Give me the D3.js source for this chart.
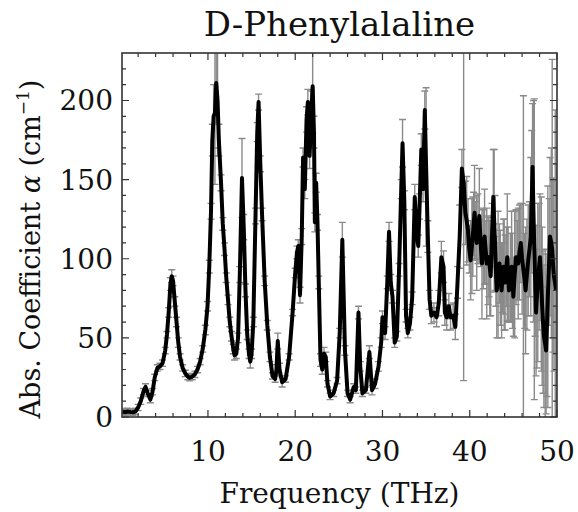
<!DOCTYPE html>
<html>
<head>
<meta charset="utf-8">
<script src="https://cdn.jsdelivr.net/npm/d3@7/dist/d3.min.js"></script>
<style>
  body { margin: 0; background: #fff; }
  svg text { font-family: "DejaVu Serif", serif; fill: #111; }
</style>
</head>
<body>
<div id="chart"></div>
<script>
// Absorption spectrum (THz, cm^-1, +/- error)
const freq = [
  0.2, 0.5, 0.8, 1.1, 1.4, 1.7, 2.0, 2.3, 2.6, 2.85, 3.1, 3.4, 3.65, 3.9, 4.2, 4.5, 4.8,
  5.1, 5.3, 5.5, 5.7, 5.85, 6.0, 6.2, 6.4, 6.6, 6.8, 7.1, 7.4, 7.7, 7.9, 8.2, 8.5, 8.8,
  9.1, 9.4, 9.7, 9.95, 10.15, 10.35, 10.5, 10.65, 10.8, 10.95, 11.1, 11.25, 11.5, 11.7,
  11.9, 12.1, 12.3, 12.5, 12.7, 12.9, 13.05, 13.25, 13.45, 13.65, 13.9, 14.1, 14.3, 14.5,
  14.7, 14.85, 15.0, 15.2, 15.45, 15.65, 15.8, 16.0, 16.2, 16.5, 16.8, 17.1, 17.4, 17.7,
  17.85, 18.0, 18.2, 18.5, 18.9, 19.3, 19.7, 20.0, 20.2, 20.35, 20.55, 20.75, 20.9, 21.1,
  21.3, 21.45, 21.65, 21.85, 22.0, 22.15, 22.25, 22.4, 22.55, 22.7, 22.9, 23.1, 23.3, 23.5,
  23.7, 24.0, 24.4, 24.8, 25.1, 25.4, 25.7, 26.0, 26.3, 26.7, 26.95, 27.25, 27.45, 27.7,
  28.1, 28.5, 28.8, 29.15, 29.55, 29.85, 30.0, 30.3, 30.55, 30.75, 30.95, 31.15, 31.4,
  31.65, 31.9, 32.15, 32.3, 32.5, 32.7, 32.9, 33.15, 33.4, 33.7, 33.9, 34.1, 34.25, 34.45,
  34.65, 34.85, 35.0, 35.2, 35.4, 35.6, 35.9, 36.2, 36.45, 36.75, 37.0, 37.15, 37.35, 37.6,
  37.8, 38.1, 38.35, 38.6, 38.85, 39.1, 39.3, 39.5, 39.65, 39.8, 39.95, 40.1, 40.25, 40.35,
  40.45, 40.55, 40.7, 40.8, 40.95, 41.1, 41.25, 41.4, 41.55, 41.7, 41.85, 41.95, 42.1, 42.2,
  42.3, 42.4, 42.55, 42.7, 42.8, 42.9, 43.0, 43.1, 43.25, 43.4, 43.5, 43.65, 43.75, 43.85,
  43.95, 44.05, 44.2, 44.3, 44.4, 44.5, 44.65, 44.8, 44.9, 45.0, 45.15, 45.3, 45.45, 45.55,
  45.7, 45.85, 46.0, 46.15, 46.3, 46.4, 46.55, 46.7, 46.85, 47.0, 47.1, 47.2, 47.3, 47.4,
  47.5, 47.6, 47.7, 47.8, 47.95, 48.05, 48.2, 48.3, 48.4, 48.5, 48.65, 48.75, 48.85, 48.95,
  49.1, 49.2, 49.35, 49.45, 49.55, 49.65, 49.8, 49.9
];
const alpha = [
  3.4, 3.0, 3.5, 3.2, 3.0, 3.6, 6, 10, 16, 19, 15, 11, 16, 25, 31, 32, 34,
  42, 52, 66, 84, 89, 86, 73, 60, 47, 38, 31, 27.5, 25.5, 24.8, 25.5, 27, 30,
  35, 43, 55, 70, 95, 130, 175, 190, 192, 211, 200, 175, 148, 122,
  106, 88, 74, 60, 51, 43, 39, 40, 50, 90, 151, 120, 80, 52,
  40, 35, 40, 60, 127, 180, 199, 160, 128, 86, 58, 38, 26, 24,
  30, 48, 30, 22, 24, 38, 66, 91, 104, 108, 77, 114, 164, 144,
  188, 199, 165, 194, 209, 180, 123, 148, 123, 85, 36, 30, 40, 38,
  21, 13, 15, 23, 53, 112, 42, 15, 11, 19, 17, 66, 32, 15,
  17, 41, 17, 21, 32, 47, 63, 53, 85, 117, 85, 76, 47,
  51, 93, 144, 173, 137, 64, 53, 59, 75, 139, 118, 108, 133, 169,
  144, 194, 158, 114, 74, 64, 66, 63, 72, 101, 95, 66, 63, 70,
  63, 64, 57, 85, 114, 157, 148, 129, 124, 118, 106, 99, 108, 114,
  122, 129, 118, 110, 119, 127, 110, 97, 106, 114, 104, 97, 99, 101,
  94, 89, 115, 139, 124, 110, 92, 80, 90, 97, 88, 80, 88, 95,
  90, 85, 95, 101, 90, 80, 88, 95, 86, 76, 90, 101, 99, 97,
  104, 110, 100, 93, 86, 80, 90, 99, 106, 114, 136, 158, 130, 106,
  86, 66, 76, 85, 95, 101, 84, 70, 60, 51, 46, 42, 58, 76,
  98, 114, 110, 106, 96, 89, 84, 80
];
const alphaErr = [
  2, 2, 2, 2, 2, 2, 2, 2, 2, 2, 2, 2, 2, 2, 2, 2, 2,
  2, 2, 3, 4, 4, 3, 3, 3, 3, 2, 2, 2, 2, 2, 2, 2, 2,
  2, 2, 3, 3, 4, 5, 10, 20, 45, 25, 35, 10, 5, 4,
  4, 3, 3, 3, 3, 3, 3, 3, 3, 5, 25, 8, 4, 3,
  3, 4, 3, 3, 5, 6, 5, 5, 4, 3, 3, 3, 2, 2,
  3, 5, 4, 3, 2, 2, 2, 3, 4, 4, 5, 5, 6, 6,
  8, 8, 8, 12, 30, 10, 6, 6, 5, 4, 4, 3, 4, 3,
  2, 2, 2, 2, 3, 11, 3, 2, 2, 2, 2, 4, 3, 2,
  2, 4, 3, 3, 3, 3, 4, 4, 4, 6, 5, 4, 3,
  3, 4, 6, 15, 6, 4, 3, 4, 4, 8, 8, 7, 8, 10,
  8, 12, 50, 10, 6, 5, 6, 6, 8, 10, 10, 8, 8, 8,
  8, 8, 8, 10, 20, 12, 125, 20, 28, 20, 15, 25, 30, 25,
  20, 30, 18, 30, 22, 30, 15, 35, 25, 30, 20, 35, 28, 25,
  30, 25, 20, 30, 45, 30, 22, 30, 40, 25, 30, 30, 22, 30,
  35, 30, 25, 40, 30, 20, 28, 35, 30, 25, 40, 30, 25, 35,
  30, 25, 35, 110, 30, 40, 35, 35, 30, 50, 45, 40, 70, 95,
  35, 40, 45, 50, 40, 40, 55, 50, 45, 45, 60, 40, 45, 70,
  40, 50, 60, 120, 55, 60, 110, 80
];
const xTicks = [10, 20, 30, 40, 50];
const yTicks = [0, 50, 100, 150, 200];
const xMinor = d3.range(2, 50, 2);
const yMinor = d3.range(10, 230, 10);

const width = 578, height = 512;
const margin = { top: 53, right: 21, bottom: 95, left: 122 };
const plotW = width - margin.left - margin.right;
const plotH = height - margin.top - margin.bottom;

const points = freq.map((f, i) => ({ f, a: alpha[i], e: alphaErr[i] }));

const x = d3.scaleLinear().domain([0.15, 50]).range([0, plotW]);
const y = d3.scaleLinear().domain([0, 230]).range([plotH, 0]);

const svg = d3.select('#chart')
    .append('svg')
    .attr('width', width)
    .attr('height', height);

svg.append('defs').append('clipPath')
    .attr('id', 'plot-clip')
    .append('rect')
    .attr('width', plotW)
    .attr('height', plotH);

const g = svg.append('g')
    .attr('transform', `translate(${margin.left},${margin.top})`);

// Error bars
const bars = g.append('g')
    .attr('clip-path', 'url(#plot-clip)')
    .attr('stroke', '#8a8a8a')
    .attr('stroke-width', 1.4)
    .attr('fill', 'none');

bars.selectAll('line.err')
    .data(points)
    .enter().append('line')
    .attr('class', 'err')
    .attr('x1', d => x(d.f))
    .attr('x2', d => x(d.f))
    .attr('y1', d => y(d.a + d.e))
    .attr('y2', d => y(d.a - d.e));

bars.selectAll('path.cap')
    .data(points)
    .enter().append('path')
    .attr('class', 'cap')
    .attr('d', d => {
        const cx = x(d.f), w = 3.5;
        const t = y(d.a + d.e), b = y(d.a - d.e);
        return `M${cx - w},${t}H${cx + w}M${cx - w},${b}H${cx + w}`;
    });

// Spectrum line
const line = d3.line()
    .x(d => x(d.f))
    .y(d => y(d.a));

g.append('path')
    .datum(points)
    .attr('clip-path', 'url(#plot-clip)')
    .attr('d', line)
    .attr('fill', 'none')
    .attr('stroke', '#000')
    .attr('stroke-width', 4)
    .attr('stroke-linejoin', 'round');

// Frame with inward ticks on all sides
const axisG = g.append('g')
    .attr('stroke', '#333')
    .attr('fill', 'none');

axisG.append('rect')
    .attr('width', plotW)
    .attr('height', plotH)
    .attr('stroke-width', 1.6);

function tickPath(vals, len, horizontal) {
    return vals.map(v => horizontal
        ? `M${x(v)},${plotH}v${-len}M${x(v)},0v${len}`
        : `M0,${y(v)}h${len}M${plotW},${y(v)}h${-len}`).join('');
}

axisG.append('path').attr('stroke-width', 1.2).attr('d', tickPath(xTicks, 7, true));
axisG.append('path').attr('stroke-width', 1.2).attr('d', tickPath(xMinor.filter(v => v % 10), 4, true));
axisG.append('path').attr('stroke-width', 1.2).attr('d', tickPath(yTicks, 7, false));
axisG.append('path').attr('stroke-width', 1.2).attr('d', tickPath(yMinor.filter(v => v % 50), 4, false));

// Tick labels
g.selectAll('text.xl')
    .data(xTicks)
    .enter().append('text')
    .attr('class', 'xl')
    .attr('x', d => x(d))
    .attr('y', plotH + 44)
    .attr('text-anchor', 'middle')
    .attr('font-size', 28)
    .text(d => d);

g.selectAll('text.yl')
    .data(yTicks)
    .enter().append('text')
    .attr('class', 'yl')
    .attr('x', -9)
    .attr('y', d => y(d) + 10)
    .attr('text-anchor', 'end')
    .attr('font-size', 28)
    .text(d => d);

// Titles
svg.append('text')
    .attr('x', margin.left + plotW / 2)
    .attr('y', 36)
    .attr('text-anchor', 'middle')
    .attr('font-size', 34)
    .text('D-Phenylalaline');

svg.append('text')
    .attr('x', margin.left + plotW / 2)
    .attr('y', 503)
    .attr('text-anchor', 'middle')
    .attr('font-size', 28)
    .text('Frequency (THz)');

const yTitle = svg.append('text')
    .attr('transform', `translate(40,${margin.top + plotH / 2 + 14}) rotate(-90)`)
    .attr('text-anchor', 'middle')
    .attr('font-size', 27);
yTitle.append('tspan').text('Abs. Coefficient ');
yTitle.append('tspan').attr('font-style', 'italic').text('α');
yTitle.append('tspan').text(' (cm');
yTitle.append('tspan').attr('font-size', 17).attr('dy', -11).text('−1');
yTitle.append('tspan').attr('dy', 11).text(')');
</script>
</body>
</html>
